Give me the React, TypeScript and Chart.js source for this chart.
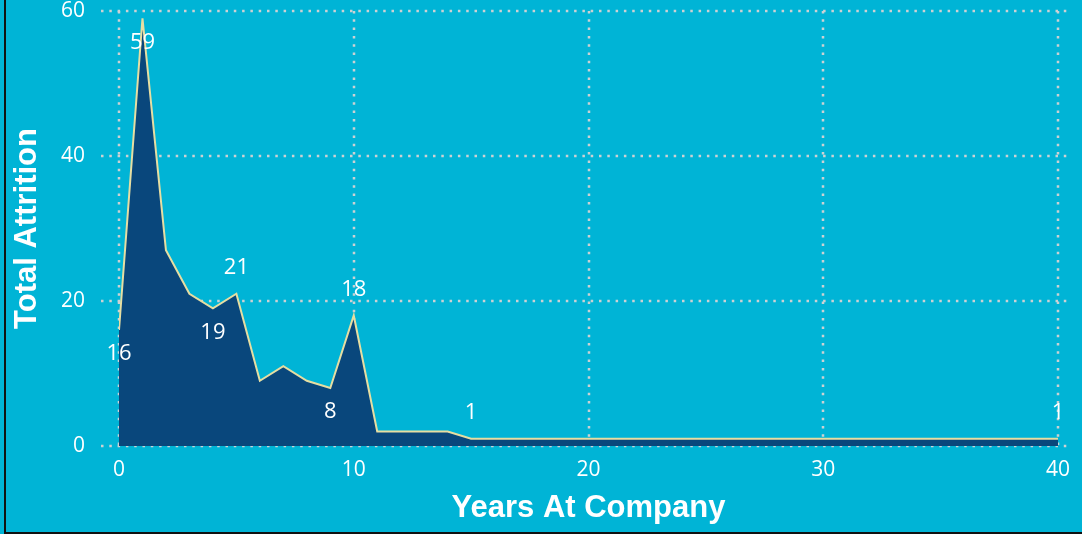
import React, { useEffect, useRef } from "react";
import { Chart, registerables } from "chart.js";

Chart.register(...registerables);

// Years at company (x) and total attrition (y)
const years = [0, 1, 2, 3, 4, 5, 6, 7, 8, 9, 10, 11, 12, 13, 14, 15, 40];
const attrition = [16, 59, 27, 21, 19, 21, 9, 11, 9, 8, 18, 2, 2, 2, 2, 1, 1];

// Data labels shown on the chart
const labelYears = [0, 1, 4, 5, 9, 10, 15, 40];
const labelValues = [16, 59, 19, 21, 8, 18, 1, 1];
const labelBelow = [true, true, true, false, true, false, false, false];

const xTicks = [0, 10, 20, 30, 40];
const yTicks = [0, 20, 40, 60];

const xTitle = "Years At Company";
const yTitle = "Total Attrition";

const BG = "#00B4D6";
const FILL = "#09477C";
const LINE = "#E6DEA2";
const GRID = "#CDD1D4";
const TICK_FONT = "Open Sans";

export default function App() {
  const canvasRef = useRef<HTMLCanvasElement | null>(null);

  useEffect(() => {
    const canvas = canvasRef.current;
    if (!canvas) return;

    const gridPlugin = {
      id: "dottedGrid",
      beforeDatasetsDraw(chart: any) {
        const { ctx, chartArea, scales } = chart;
        const xs = scales.x;
        const ys = scales.y;
        ctx.save();
        ctx.strokeStyle = GRID;
        ctx.lineWidth = 2.5;
        ctx.setLineDash([2.5, 5.8]);
        for (const v of yTicks) {
          const py = Math.round(ys.getPixelForValue(v));
          ctx.beginPath();
          ctx.moveTo(chartArea.left - 18, py);
          ctx.lineTo(chartArea.right + 9, py);
          ctx.stroke();
        }
        for (const v of xTicks) {
          const px = Math.round(xs.getPixelForValue(v));
          ctx.beginPath();
          ctx.moveTo(px, chartArea.top);
          ctx.lineTo(px, chartArea.bottom);
          ctx.stroke();
        }
        ctx.restore();
      },
    };

    const labelPlugin = {
      id: "pointLabels",
      afterDatasetsDraw(chart: any) {
        const { ctx, scales } = chart;
        ctx.save();
        ctx.fillStyle = "#FFFFFF";
        ctx.font = `22px "${TICK_FONT}"`;
        ctx.textAlign = "center";
        ctx.textBaseline = "middle";
        labelYears.forEach((yr, i) => {
          const px = scales.x.getPixelForValue(yr);
          const py = scales.y.getPixelForValue(labelValues[i]);
          const dy = labelBelow[i] ? 24 : -26;
          ctx.fillText(String(labelValues[i]), px, py + dy);
        });
        ctx.restore();
      },
    };

    const chart = new Chart(canvas, {
      type: "line",
      data: {
        datasets: [
          {
            data: years.map((x, i) => ({ x, y: attrition[i] })),
            borderColor: LINE,
            borderWidth: 2,
            backgroundColor: FILL,
            fill: "origin",
            pointRadius: 0,
            tension: 0,
          },
        ],
      },
      options: {
        responsive: false,
        animation: false,
        devicePixelRatio: 1,
        layout: { padding: { top: 11, right: 24, left: 0, bottom: 0 } },
        plugins: {
          legend: { display: false },
          tooltip: { enabled: false },
        },
        scales: {
          x: {
            type: "linear",
            min: 0,
            max: 40,
            afterBuildTicks: (scale: any) => {
              scale.ticks = xTicks.map((v) => ({ value: v }));
            },
            afterFit: (scale: any) => {
              scale.height = 88;
              scale.paddingLeft = 0;
              scale.paddingRight = 0;
            },
            grid: { display: false },
            border: { display: false },
            ticks: {
              color: "#FFFFFF",
              font: { family: TICK_FONT, size: 21 },
              padding: 3,
              maxRotation: 0,
            },
            title: {
              display: true,
              text: xTitle,
              color: "#FFFFFF",
              font: { family: "Liberation Sans", size: 31, weight: "bold" },
              padding: { top: 0, bottom: 7 },
            },
          },
          y: {
            type: "linear",
            min: 0,
            max: 60,
            afterBuildTicks: (scale: any) => {
              scale.ticks = yTicks.map((v) => ({ value: v }));
            },
            afterFit: (scale: any) => {
              scale.width = 119;
              scale.paddingTop = 0;
              scale.paddingBottom = 0;
            },
            grid: { display: false },
            border: { display: false },
            ticks: {
              color: "#FFFFFF",
              font: { family: TICK_FONT, size: 21 },
              padding: 26,
            },
            title: {
              display: true,
              text: yTitle,
              color: "#FFFFFF",
              font: { family: "Liberation Sans", size: 31, weight: "bold" },
              padding: { top: 9, bottom: 0 },
            },
          },
        },
      },
      plugins: [gridPlugin, labelPlugin],
    });

    return () => chart.destroy();
  }, []);

  return (
    <div
      style={{
        position: "fixed",
        left: 0,
        top: 0,
        width: 1082,
        height: 534,
        background: BG,
        overflow: "hidden",
      }}
    >
      <canvas
        ref={canvasRef}
        width={1082}
        height={534}
        style={{ position: "absolute", left: 0, top: 0, width: 1082, height: 534 }}
      />
      <div
        style={{
          position: "absolute",
          left: 4,
          top: 0,
          width: 1082,
          height: 534,
          boxSizing: "border-box",
          borderLeft: "2px solid #111",
          borderBottom: "2px solid #111",
          pointerEvents: "none",
        }}
      />
    </div>
  );
}
